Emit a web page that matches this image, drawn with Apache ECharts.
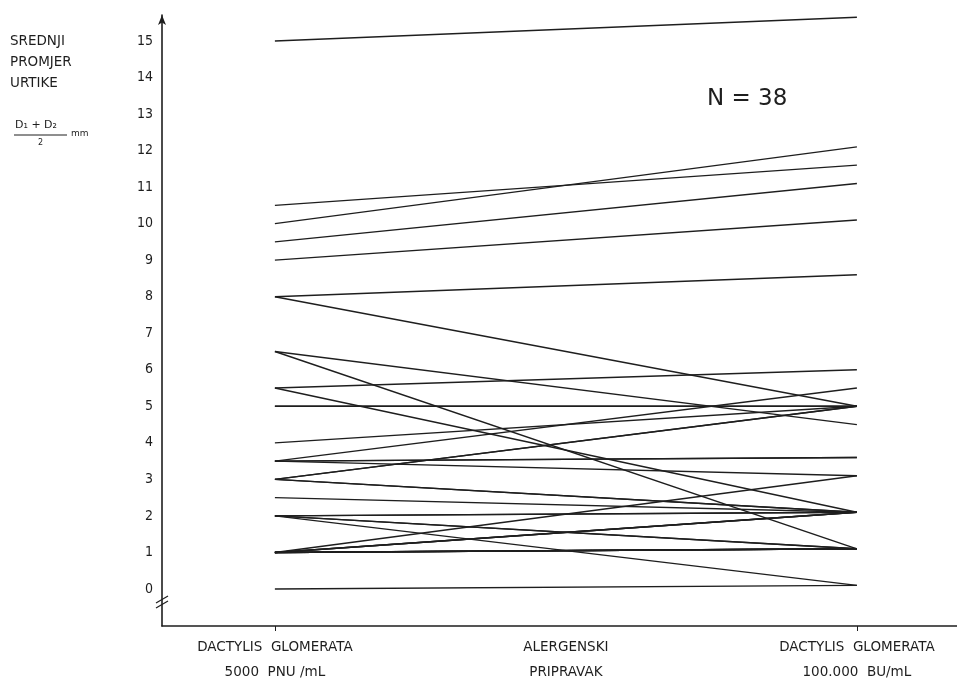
<!DOCTYPE html>
<html>
<head>
<meta charset="utf-8">
<script src="https://cdn.jsdelivr.net/npm/echarts@6/dist/echarts.min.js"></script>
<style>
  html, body { margin: 0; padding: 0; background: #fff; }
  #main { width: 957px; height: 682px; }
</style>
</head>
<body>
<div id="main"></div>
<script>
    // mean wheal diameter, mm: first test (x=0) and last test (x=2), one entry per patient
    var startVals = [15, 10.5, 10, 9.5, 9, 8, 8, 6.5, 6.5, 5.5, 5.5, 5, 5, 4, 3.5, 3.5, 3.5, 3.5,
                     3, 3, 3, 3, 2.5, 2, 2, 2, 2, 2, 1, 1, 1, 1, 1, 1, 1, 1, 1, 0];
    var endVals   = [15.65, 11.6, 12.1, 11.1, 10.1, 8.6, 5.0, 4.5, 1.1, 6.0, 2.1, 5.0, 5.0, 5.0, 5.5, 3.6, 3.6, 3.1,
                     5.0, 5.0, 2.1, 2.1, 2.1, 2.1, 2.1, 0.1, 1.1, 1.1, 3.1, 2.1, 2.1, 2.1, 1.1, 1.1, 1.1, 1.1, 1.1, 0.1];
    var xLabels = ['DACTYLIS  GLOMERATA\n5000  PNU /mL', 'ALERGENSKI\nPRIPRAVAK', 'DACTYLIS  GLOMERATA\n100.000  BU/mL'];
    var yTicks = [0, 1, 2, 3, 4, 5, 6, 7, 8, 9, 10, 11, 12, 13, 14, 15];

    var ink = '#1e1e1e';
    var font = 'DejaVu Sans';
    var narrow = 'DejaVu Sans Condensed';

    var series = [];
    for (var i = 0; i < startVals.length; i++) {
        series.push({
            type: 'line',
            data: [[0, startVals[i]], [2, endVals[i]]],
            symbol: 'none',
            silent: true,
            lineStyle: { color: ink, width: 1.4 }
        });
    }

    var chart = echarts.init(document.getElementById('main'));
    chart.setOption({
        animation: false,
        backgroundColor: '#fff',
        grid: { left: 162, right: 0, top: 15, bottom: 56, outerBoundsMode: 'none', containLabel: false },
        xAxis: {
            type: 'value',
            min: -0.388,
            max: 2.344,
            splitLine: { show: false },
            axisLine: { onZero: false, lineStyle: { color: ink, width: 1.6 } },
            axisTick: { customValues: [0, 2], length: 5, lineStyle: { color: ink } },
            axisLabel: {
                customValues: [0, 1, 2],
                formatter: function (v) { return xLabels[Math.round(v)]; },
                color: ink,
                fontFamily: font,
                fontSize: 13.5,
                lineHeight: 25,
                margin: 9
            }
        },
        yAxis: {
            type: 'value',
            min: -1.013,
            max: 15.71,
            splitLine: { show: false },
            axisLine: {
                onZero: false,
                symbol: ['none', 'arrow'],
                symbolSize: [6, 10],
                lineStyle: { color: ink, width: 1.6 }
            },
            axisTick: { show: false },
            axisLabel: {
                customValues: yTicks,
                color: ink,
                fontFamily: narrow,
                fontSize: 14,
                margin: 9
            }
        },
        graphic: [
            { type: 'text', left: 10, top: 34, style: { text: 'SREDNJI', fill: ink, font: '13.5px "' + font + '"' } },
            { type: 'text', left: 10, top: 55, style: { text: 'PROMJER', fill: ink, font: '13.5px "' + font + '"' } },
            { type: 'text', left: 10, top: 76, style: { text: 'URTIKE', fill: ink, font: '13.5px "' + font + '"' } },
            { type: 'text', left: 15, top: 120, style: { text: 'D\u2081 + D\u2082', fill: ink, font: '11px "' + font + '"' } },
            { type: 'line', shape: { x1: 14, y1: 135, x2: 67, y2: 135 }, style: { stroke: ink, lineWidth: 1 } },
            { type: 'text', left: 38, top: 139, style: { text: '2', fill: ink, font: '8px "' + font + '"' } },
            { type: 'text', left: 71, top: 129, style: { text: 'mm', fill: ink, font: '9px "' + font + '"' } },
            { type: 'text', left: 707, top: 88, style: { text: 'N = 38', fill: ink, font: '23px "' + font + '"' } },
            // axis break mark
            { type: 'rect', shape: { x: 157, y: 597, width: 10, height: 8 }, style: { fill: '#fff' } },
            { type: 'line', shape: { x1: 156, y1: 603, x2: 168, y2: 596 }, style: { stroke: ink, lineWidth: 1.2 } },
            { type: 'line', shape: { x1: 156, y1: 608, x2: 168, y2: 601 }, style: { stroke: ink, lineWidth: 1.2 } }
        ],
        series: series
    });
</script>
</body>
</html>
